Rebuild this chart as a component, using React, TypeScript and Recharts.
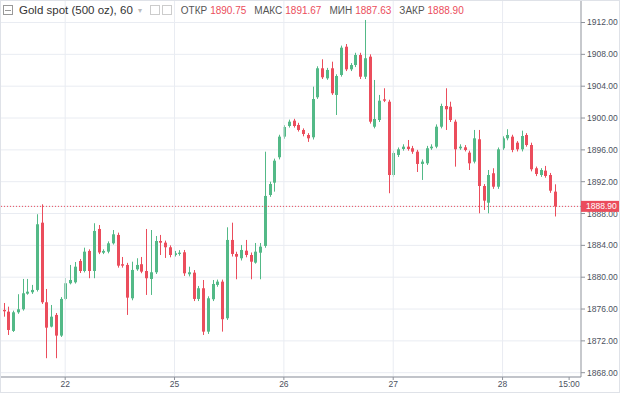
import { Bar, ComposedChart, XAxis, YAxis, CartesianGrid, ReferenceLine } from "recharts"

// hourly candles left to right
const opens = [
  1875.89, 1875.67, 1873.25, 1875.59, 1875.97, 1877.93, 1878.11, 1878.4, 1886.85, 1876.85,
  1873.79, 1875.26, 1872.66, 1877.27, 1879.24, 1879.36, 1882.04, 1880.78, 1883.3, 1880.78,
  1886.06, 1883.08, 1883.21, 1884.26, 1885.31, 1881.63, 1881.54, 1877.35, 1880.99, 1881.63,
  1880.78, 1879.78, 1880.62, 1884.55, 1884.34, 1883.76, 1882.79, 1882.92, 1883.13, 1880.37,
  1880.57, 1877.27, 1878.61, 1873.16, 1877.23, 1879.03, 1879.44, 1874.84, 1884.68, 1882.92,
  1882.38, 1883.33, 1882.79, 1881.83, 1883.08, 1883.93, 1890.33, 1891.88, 1895.07, 1897.66,
  1899.0, 1899.67, 1899.13, 1898.5, 1897.87, 1897.58, 1902.61, 1906.25, 1904.99, 1906.25,
  1902.9, 1905.41, 1908.96, 1906.12, 1906.66, 1907.92, 1905.19, 1907.71, 1898.91, 1899.75,
  1902.35, 1902.05, 1892.84, 1895.36, 1896.11, 1896.4, 1896.2, 1895.77, 1894.23, 1894.31,
  1896.2, 1896.4, 1898.91, 1901.51, 1901.42, 1899.54, 1896.2, 1896.32, 1895.65, 1894.52,
  1897.33, 1891.46, 1889.36, 1893.06, 1891.37, 1896.2, 1897.45, 1897.66, 1896.9, 1896.07,
  1897.87, 1896.61, 1893.69, 1892.84, 1893.39, 1892.84, 1890.75,
]
const highs = [
  1876.76, 1876.3, 1875.8, 1877.86, 1879.78, 1879.78, 1879.03, 1887.91, 1889.16, 1878.52,
  1876.51, 1875.5, 1877.5, 1879.9, 1881.54, 1881.91, 1882.29, 1883.71, 1883.5, 1886.78,
  1886.56, 1883.5, 1884.5, 1885.93, 1885.6, 1882.54, 1881.8, 1881.95, 1882.38, 1882.54,
  1886.06, 1885.93, 1885.18, 1885.31, 1884.6, 1884.0, 1883.3, 1883.4, 1883.42, 1881.32,
  1880.9, 1878.9, 1879.65, 1877.6, 1879.65, 1879.7, 1879.7, 1886.27, 1886.85, 1883.2,
  1884.05, 1884.68, 1883.1, 1884.3, 1884.3, 1895.77, 1892.0, 1894.9, 1897.9, 1899.1,
  1899.8, 1899.9, 1899.4, 1898.7, 1898.1, 1903.94, 1906.5, 1907.38, 1906.3, 1907.08,
  1905.5, 1909.1, 1909.3, 1906.9, 1908.2, 1908.2, 1912.32, 1908.0, 1904.78, 1902.9,
  1903.74, 1902.3, 1895.9, 1896.3, 1896.7, 1897.24, 1896.5, 1896.0, 1894.8, 1896.5,
  1896.7, 1899.2, 1901.8, 1903.74, 1902.05, 1899.8, 1896.7, 1896.6, 1895.9, 1898.5,
  1898.5, 1891.7, 1893.47, 1893.69, 1896.3, 1897.7, 1898.59, 1897.9, 1897.1, 1898.41,
  1898.1, 1896.9, 1893.9, 1893.7, 1893.98, 1893.1, 1891.67,
]
const lows = [
  1875.04, 1872.74, 1873.12, 1875.4, 1875.8, 1877.8, 1877.9, 1878.2, 1876.64, 1869.82,
  1873.69, 1869.82, 1872.49, 1877.1, 1879.1, 1879.2, 1880.53, 1880.6, 1879.87, 1879.87,
  1882.9, 1882.9, 1883.0, 1884.1, 1881.2, 1881.2, 1875.26, 1877.1, 1880.8, 1880.5,
  1877.77, 1877.77, 1880.4, 1882.79, 1882.42, 1882.5, 1882.6, 1882.7, 1880.16, 1880.1,
  1877.0, 1877.0, 1872.74, 1872.87, 1877.0, 1878.8, 1873.16, 1874.63, 1882.6, 1879.74,
  1882.1, 1882.5, 1879.74, 1881.7, 1879.74, 1883.7, 1890.1, 1890.75, 1894.8, 1897.4,
  1898.8, 1898.8, 1898.3, 1897.7, 1897.0, 1897.3, 1902.4, 1904.9, 1904.8, 1902.9,
  1900.38, 1905.2, 1905.9, 1905.9, 1906.4, 1904.9, 1904.9, 1899.3, 1898.7, 1899.5,
  1902.0, 1890.55, 1892.6, 1895.1, 1895.9, 1895.9, 1895.5, 1893.22, 1892.22, 1894.1,
  1896.0, 1896.2, 1898.7, 1898.5, 1899.5, 1893.89, 1896.0, 1895.8, 1893.47, 1894.3,
  1888.03, 1888.45, 1888.03, 1891.1, 1891.1, 1896.0, 1897.2, 1895.7, 1895.8, 1895.8,
  1896.4, 1893.3, 1892.7, 1892.6, 1892.5, 1890.6, 1887.63,
]
const closes = [
  1875.72, 1873.37, 1875.59, 1875.97, 1877.98, 1878.18, 1878.4, 1886.65, 1876.85, 1873.66,
  1875.04, 1872.66, 1877.27, 1879.24, 1879.65, 1881.32, 1880.78, 1883.21, 1880.78, 1885.81,
  1883.11, 1883.3, 1884.26, 1885.39, 1881.45, 1881.45, 1877.43, 1880.91, 1881.54, 1880.7,
  1879.87, 1880.62, 1884.55, 1884.34, 1883.76, 1882.79, 1883.01, 1883.08, 1880.49, 1880.62,
  1877.27, 1878.61, 1873.16, 1877.35, 1879.15, 1879.44, 1874.72, 1884.68, 1882.92, 1882.58,
  1883.42, 1882.79, 1881.95, 1883.21, 1883.84, 1890.21, 1891.71, 1894.64, 1897.66, 1898.87,
  1899.54, 1899.0, 1898.5, 1897.99, 1897.45, 1902.39, 1906.25, 1905.12, 1906.04, 1903.11,
  1905.28, 1908.84, 1906.12, 1906.66, 1907.92, 1905.19, 1907.51, 1899.54, 1899.88, 1902.18,
  1902.18, 1892.84, 1895.61, 1896.07, 1896.4, 1896.11, 1895.77, 1894.23, 1894.52, 1896.2,
  1896.4, 1898.91, 1901.51, 1901.1, 1899.75, 1896.07, 1896.4, 1895.98, 1894.31, 1897.45,
  1891.46, 1889.62, 1892.84, 1891.37, 1896.07, 1897.45, 1897.87, 1895.99, 1896.07, 1897.74,
  1896.61, 1893.56, 1892.97, 1893.47, 1892.72, 1890.87, 1888.9,
]

const timeLabels = ["22", "25", "26", "27", "28", "15:00"]
const timeSlots = [13, 36, 59, 82, 105, 119]
const daySlots = [13, 36, 59, 82, 105]
const priceTicks = [1868, 1872, 1876, 1880, 1884, 1888, 1892, 1896, 1900, 1904, 1908, 1912]
const lastPrice = 1888.9
const spareSlots = 5

const UP = "#53b987"
const DOWN = "#eb4d5c"
const GRID = "#e9ecf2"
const AXIS = "#8f939b"
const TEXT = "#4c525e"

const data = Array.from({ length: opens.length + spareSlots }, (_, i) =>
  i < opens.length
    ? { slot: i, open: opens[i], high: highs[i], low: lows[i], close: closes[i], range: [lows[i], highs[i]] }
    : { slot: i, range: null }
)

function Candle(props: any) {
  const { x, y, width, height, payload } = props
  if (!payload || payload.open == null) return null
  const { open, high, low, close } = payload
  const top = Math.min(y, y + height)
  const h = Math.abs(height)
  const k = high > low ? h / (high - low) : 0
  const yo = top + (high - open) * k
  const yc = top + (high - close) * k
  const color = close >= open ? UP : DOWN
  const cx = Math.round(x + width / 2) + 0.5
  const bw = 3
  return (
    <g>
      <line x1={cx} x2={cx} y1={top} y2={top + h} stroke={color} strokeWidth={1} />
      <rect x={cx - bw / 2} y={Math.min(yo, yc)} width={bw} height={Math.max(1, Math.abs(yo - yc))} fill={color} />
    </g>
  )
}

function PriceTick(props: any) {
  const { x, y, payload } = props
  const v = payload.value
  if (v === lastPrice) {
    return (
      <g>
        <rect x={x - 6} y={y - 5.5} width={40} height={11} fill={DOWN} />
        <text x={x - 1} y={y} dy="0.35em" fill="#fff" fontSize={8.5}>{v.toFixed(2)}</text>
      </g>
    )
  }
  return <text x={x} y={y} dy="0.35em" fill={TEXT} fontSize={8.5}>{v.toFixed(2)}</text>
}

function Header() {
  const lbl = { color: "#555", marginRight: 3 }
  const val = { color: DOWN, marginRight: 8 }
  return (
    <div style={{ position: "absolute", left: 3, top: 4, fontSize: 10, display: "flex", alignItems: "center", whiteSpace: "nowrap" }}>
      <span style={{ display: "inline-block", width: 8, height: 8, border: "1px solid #999", marginRight: 6, position: "relative" }}>
        <span style={{ position: "absolute", left: 1, right: 1, top: 3.5, height: 1, background: "#999" }} />
      </span>
      <span style={{ fontSize: 11.5, color: "#333" }}>Gold spot (500 oz), 60</span>
      <span style={{ color: "#bbb", fontSize: 8, margin: "0 8px 0 5px" }}>▾</span>
      <span style={{ display: "inline-block", width: 8, height: 8, border: "1px solid #ccc", marginRight: 2 }} />
      <span style={{ display: "inline-block", width: 8, height: 8, border: "1px solid #ccc", marginRight: 9 }} />
      <span style={lbl}>ОТКР</span><span style={val}>1890.75</span>
      <span style={lbl}>МАКС</span><span style={val}>1891.67</span>
      <span style={lbl}>МИН</span><span style={val}>1887.63</span>
      <span style={lbl}>ЗАКР</span><span style={val}>1888.90</span>
    </div>
  )
}

export default function App() {
  return (
    <div style={{ position: "absolute", left: 0, top: 0, width: 620, height: 393, background: "#fff", fontFamily: "'Liberation Sans', Arial, sans-serif" }}>
      <ComposedChart width={620} height={393} data={data} margin={{ top: 0, right: 0, left: 1, bottom: 0 }} barCategoryGap={0}>
        <CartesianGrid vertical={false} stroke={GRID} />
        {daySlots.map((s) => (
          <ReferenceLine key={s} x={s} stroke={GRID} />
        ))}
        <XAxis
          dataKey="slot"
          type="category"
          ticks={timeSlots}
          interval={0}
          height={16}
          tickSize={3}
          tickMargin={1}
          tick={{ fontSize: 8.5, fill: TEXT }}
          tickFormatter={(v) => timeLabels[timeSlots.indexOf(Number(v))] ?? ""}
          axisLine={{ stroke: AXIS }}
          tickLine={{ stroke: AXIS }}
        />
        <YAxis
          orientation="right"
          domain={[1867.46, 1914.83]}
          allowDataOverflow
          ticks={[...priceTicks, lastPrice]}
          interval={0}
          width={39}
          tickSize={4}
          tickMargin={2}
          tick={<PriceTick />}
          axisLine={{ stroke: AXIS }}
          tickLine={{ stroke: AXIS }}
        />
        <ReferenceLine y={lastPrice} stroke={DOWN} strokeDasharray="1 2" />
        <Bar dataKey="range" shape={<Candle />} isAnimationActive={false} />
      </ComposedChart>
      <Header />
      <div style={{ position: "absolute", inset: 0, border: "1px solid #dfe2e8", pointerEvents: "none" }} />
    </div>
  )
}
